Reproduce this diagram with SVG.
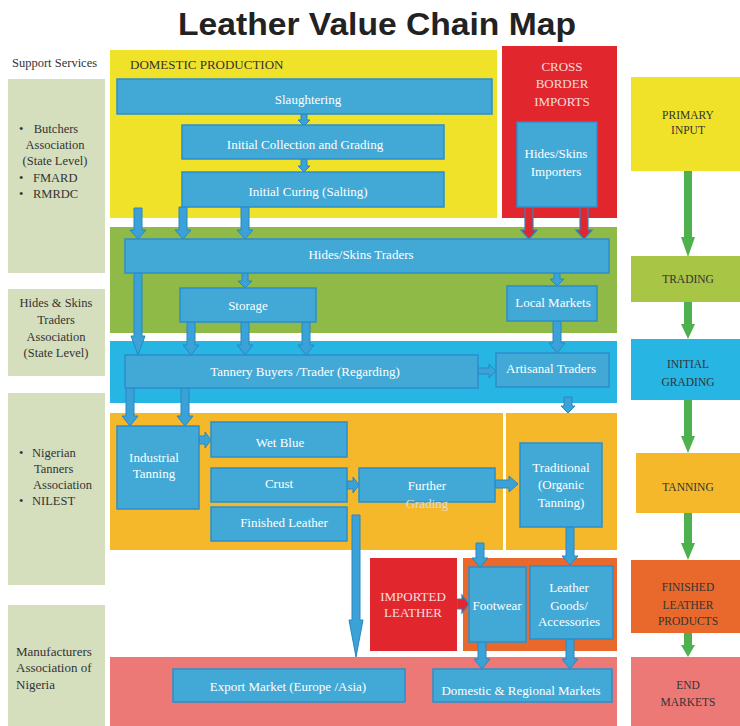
<svg xmlns="http://www.w3.org/2000/svg" width="740" height="726" viewBox="0 0 740 726" font-family="'Liberation Serif','DejaVu Serif',serif">
<style>
.t{font-family:'Liberation Serif','DejaVu Serif','Times New Roman',serif;font-size:13px;}
.s{font-size:12.5px;}
.w{fill:#ffffff;text-anchor:middle;}
.d{fill:#333333;}
.c{fill:#333333;text-anchor:middle;font-size:11.5px;}
.box{fill:#42a9d6;stroke:#2b8fcb;stroke-width:1.5;}
.ab{fill:#3ba2d8;stroke:#2a86c0;stroke-width:1;}
.ar{fill:#e0262e;stroke:#2a86c0;stroke-width:1.2;}
.ag{fill:#4db24d;}
</style>
<rect width="740" height="726" fill="#ffffff"/>
<text x="377" y="35" font-family="'Liberation Sans',Arial,sans-serif" font-weight="bold" font-size="32" text-anchor="middle" fill="#222222" textLength="398" lengthAdjust="spacingAndGlyphs">Leather Value Chain Map</text>

<!-- support services column -->
<g id="support">
<text class="t s d" x="12" y="67">Support Services</text>
<g id="sup1"><rect x="8" y="79" width="97" height="194" fill="#d5dfbe"/>
<text class="t s d" x="19" y="133">•</text><text class="t s d" x="56" y="133" text-anchor="middle">Butchers</text>
<text class="t s d" x="55" y="149" text-anchor="middle">Association</text>
<text class="t s d" x="55" y="165" text-anchor="middle">(State Level)</text>
<text class="t s d" x="19" y="182">•</text><text class="t s d" x="33" y="182">FMARD</text>
<text class="t s d" x="19" y="198">•</text><text class="t s d" x="33" y="198">RMRDC</text></g>
<g id="sup2"><rect x="8" y="289" width="97" height="87" fill="#d5dfbe"/>
<text class="t s d" x="56" y="307" text-anchor="middle">Hides &amp; Skins</text>
<text class="t s d" x="56" y="324" text-anchor="middle">Traders</text>
<text class="t s d" x="56" y="341" text-anchor="middle">Association</text>
<text class="t s d" x="56" y="357" text-anchor="middle">(State Level)</text></g>
<g id="sup3"><rect x="8" y="393" width="97" height="192" fill="#d5dfbe"/>
<text class="t s d" x="19" y="457">•</text><text class="t s d" x="32" y="457">Nigerian</text>
<text class="t s d" x="34" y="473">Tanners</text>
<text class="t s d" x="33" y="489">Association</text>
<text class="t s d" x="19" y="505">•</text><text class="t s d" x="32" y="505">NILEST</text></g>
<g id="sup4"><rect x="8" y="605" width="97" height="121" fill="#d5dfbe"/>
<text class="t d" x="16" y="656">Manufacturers</text>
<text class="t d" x="16" y="672">Association of</text>
<text class="t d" x="16" y="689">Nigeria</text></g>
</g>

<!-- bands -->
<g id="bands">
<rect x="110" y="50" width="387" height="168" fill="#f0e229"/>
<rect x="502" y="46" width="115" height="172" fill="#e2262e"/>
<rect x="110" y="227" width="507" height="106" fill="#8fba48"/>
<rect x="110" y="341" width="507" height="62" fill="#27b5e4"/>
<rect x="110" y="413" width="393" height="137" fill="#f5b82b"/>
<rect x="506" y="413" width="111" height="137" fill="#f5b82b"/>
<rect x="463" y="558" width="154" height="93" fill="#e9692c"/>
<rect x="110" y="657" width="507" height="69" fill="#ed7977"/>
</g>

<g id="domestic-label"><text class="t d" x="130" y="69">DOMESTIC PRODUCTION</text></g>
<g id="cross-border"><text class="t" x="562" y="71" fill="#f6dada" text-anchor="middle">CROSS</text>
<text class="t" x="562" y="88" fill="#f6dada" text-anchor="middle">BORDER</text>
<text class="t" x="562" y="106" fill="#f6dada" text-anchor="middle">IMPORTS</text></g>

<!-- connectors -->
<g id="connectors">
<path class="ab" d="M301 114V120H298L304 126L310 120H307V114Z"/>
<path class="ab" d="M301 159V166H298L304 172L310 166H307V159Z"/>
<path class="ab" d="M134 208V230H130L138 239L146 230H142V208Z"/>
<path class="ab" d="M179 207V230H175L183 239L191 230H187V207Z"/>
<path class="ab" d="M241 207V230H237L245 239L253 230H249V207Z"/>
<path class="ar" d="M525 207V230H521L529 239L537 230H533V207Z"/>
<path class="ar" d="M580 207V230H576L584 239L592 230H588V207Z"/>
<path class="ab" d="M242 273V281H238L245 288L252 281H248V273Z"/>
<path class="ab" d="M554 273V279H550L557 286L564 279H560V273Z"/>
<path class="ab" d="M134 273V336H131L138 355L145 336H142V273Z"/>
<path class="ab" d="M187 322V345H183L191 355L199 345H195V322Z"/>
<path class="ab" d="M241 322V345H237L245 355L253 345H249V322Z"/>
<path class="ab" d="M302 322V345H298L306 355L314 345H310V322Z"/>
<path class="ab" d="M553 321V343H549L557 353L565 343H561V321Z"/>
<path class="ab" d="M478 368H489V364L496 371L489 378V374H478Z"/>
<path class="ab" d="M126 388V416H122L130 426L138 416H134V388Z"/>
<path class="ab" d="M181 388V416H177L185 426L193 416H189V388Z"/>
<path class="ab" d="M564 397V406H561L568 413L575 406H572V397Z"/>
<path class="ab" d="M199 436H205V432L211 440L205 448V444H199Z"/>
<path class="ab" d="M347 481H353V477L359 485L353 493V489H347Z"/>
<path class="ab" d="M495 480H509V476L518 484L509 492V488H495Z"/>
<path class="ab" d="M352 515V620H349L356 657L363 620H360V515Z"/>
<path class="ab" d="M476 543V558H472L480 567L488 558H484V543Z"/>
<path class="ab" d="M566 527V556H562L570 565L578 556H574V527Z"/>
<path class="ar" d="M457 599H462V595L469 604L462 613V609H457Z"/>
<path class="ab" d="M478 642V659H474L482 669L490 659H486V642Z"/>
<path class="ab" d="M566 639V659H562L570 669L578 659H574V639Z"/>
<path class="ag" d="M684 171V237H681L688 257L695 237H692V171Z"/>
<path class="ag" d="M684 302V324H681L688 339L695 324H692V302Z"/>
<path class="ag" d="M684 400V436H681L688 453L695 436H692V400Z"/>
<path class="ag" d="M684 513V543H681L688 560L695 543H692V513Z"/>
<path class="ag" d="M684 633V645H681L688 657L695 645H692V633Z"/>
</g>

<!-- nodes -->
<g id="slaughtering"><rect class="box" x="117" y="79" width="375" height="35"/><text class="t w" x="308" y="104">Slaughtering</text></g>
<g id="collection"><rect class="box" x="182" y="125" width="262" height="34"/><text class="t w" x="305" y="149">Initial Collection and Grading</text></g>
<g id="curing"><rect class="box" x="182" y="172" width="262" height="35"/><text class="t w" x="308" y="196">Initial Curing (Salting)</text></g>
<g id="importers"><rect class="box" x="517" y="122" width="80" height="85"/><text class="t w" x="556" y="158">Hides/Skins</text><text class="t w" x="556" y="176">Importers</text></g>
<g id="traders"><rect class="box" x="125" y="239" width="484" height="34"/><text class="t w" x="361" y="259">Hides/Skins Traders</text></g>
<g id="storage"><rect class="box" x="180" y="288" width="136" height="34"/><text class="t w" x="248" y="310">Storage</text></g>
<g id="local-markets"><rect class="box" x="507" y="286" width="90" height="35"/><text class="t w" x="553" y="307">Local Markets</text></g>
<g id="tannery-buyers"><rect class="box" x="125" y="355" width="353" height="33"/><text class="t w" x="305" y="376">Tannery Buyers /Trader (Regarding)</text></g>
<g id="artisanal"><rect class="box" x="496" y="353" width="113" height="34"/><text class="t w" x="551" y="373">Artisanal Traders</text></g>
<g id="industrial"><rect class="box" x="117" y="426" width="82" height="83"/><text class="t w" x="154" y="462">Industrial</text><text class="t w" x="154" y="478">Tanning</text></g>
<g id="wet-blue"><rect class="box" x="211" y="422" width="136" height="35"/><text class="t w" x="280" y="447">Wet Blue</text></g>
<g id="crust"><rect class="box" x="211" y="468" width="136" height="34"/><text class="t w" x="279" y="488">Crust</text></g>
<g id="finished-leather"><rect class="box" x="211" y="507" width="136" height="34"/><text class="t w" x="284" y="527">Finished Leather</text></g>
<g id="further-grading"><rect class="box" x="359" y="468" width="136" height="34"/><text class="t w" x="427" y="490">Further</text><text class="t" x="427" y="508" fill="#e2dccf" text-anchor="middle">Grading</text></g>
<g id="traditional"><rect class="box" x="520" y="443" width="82" height="84"/><text class="t w" x="561" y="472">Traditional</text><text class="t w" x="561" y="489">(Organic</text><text class="t w" x="561" y="507">Tanning)</text></g>
<g id="imported-leather"><rect x="370" y="558" width="87" height="93" fill="#e2262e"/><text class="t" x="413" y="601" fill="#f6dede" text-anchor="middle">IMPORTED</text><text class="t" x="413" y="617" fill="#f6dede" text-anchor="middle">LEATHER</text></g>
<g id="footwear"><rect class="box" x="469" y="567" width="57" height="75"/><text class="t w" x="497" y="610">Footwear</text></g>
<g id="leather-goods"><rect class="box" x="530" y="566" width="83" height="73"/><text class="t w" x="569" y="592">Leather</text><text class="t w" x="569" y="610">Goods/</text><text class="t w" x="569" y="626">Accessories</text></g>
<g id="export"><rect class="box" x="173" y="669" width="232" height="33"/><text class="t w" x="288" y="691">Export Market (Europe /Asia)</text></g>
<g id="domestic-markets"><rect class="box" x="433" y="669" width="179" height="33"/><text class="t w" x="521" y="695">Domestic &amp; Regional Markets</text></g>

<!-- stage column -->
<g id="stage-primary"><rect x="631" y="77" width="109" height="94" fill="#f0e229"/><text class="t c" x="688" y="119">PRIMARY</text><text class="t c" x="688" y="134">INPUT</text></g>
<g id="stage-trading"><rect x="631" y="256" width="109" height="46" fill="#a8c545"/><text class="t c" x="688" y="283">TRADING</text></g>
<g id="stage-grading"><rect x="631" y="339" width="109" height="61" fill="#27b5e4"/><text class="t c" x="688" y="368">INITIAL</text><text class="t c" x="688" y="386">GRADING</text></g>
<g id="stage-tanning"><rect x="636" y="453" width="104" height="60" fill="#f5b82b"/><text class="t c" x="688" y="491">TANNING</text></g>
<g id="stage-finished"><rect x="631" y="560" width="109" height="73" fill="#e9692c"/><text class="t c" x="688" y="591">FINISHED</text><text class="t c" x="688" y="609">LEATHER</text><text class="t c" x="688" y="625">PRODUCTS</text></g>
<g id="stage-end"><rect x="631" y="657" width="109" height="69" fill="#ed7977"/><text class="t c" x="688" y="689">END</text><text class="t c" x="688" y="706">MARKETS</text></g>
</svg>
